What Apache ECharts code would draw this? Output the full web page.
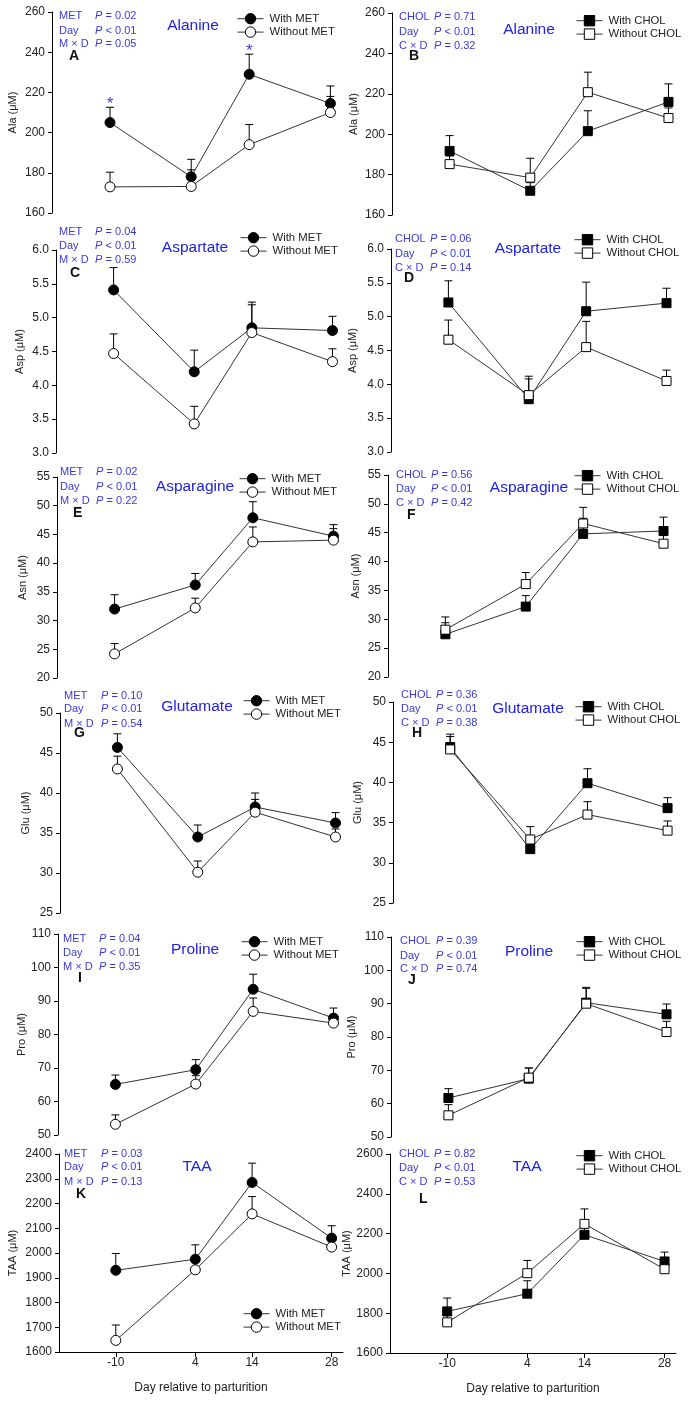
<!DOCTYPE html>
<html><head><meta charset="utf-8">
<script src="https://cdn.jsdelivr.net/npm/echarts@6/dist/echarts.min.js"></script>
<style>html,body{margin:0;padding:0;background:#fff}#c{width:688px;height:1401px}</style>
</head><body><div id="c"></div>
<script>
// ---------- DATA ----------
const days = [-10, 4, 14, 28];
const xTicks = [-10, 4, 14, 28];

const alaWithMET = [205, 178, 229, 214.5];
const alaWithMETSem = [7.6, 8.7, 10, 8.7];
const alaWithoutMET = [173, 173.2, 194, 210];
const alaWithoutMETSem = [7.3, 8.3, 10, 8];
const alaMETStars = [-10, 14];
const alaWithCHOL = [191.7, 172, 201.5, 216];
const alaWithCHOLSem = [7.6, 4, 10.1, 8.9];
const alaWithoutCHOL = [185.2, 178.5, 220.8, 208];
const alaWithoutCHOLSem = [4, 9.6, 9.9, 5];

const aspWithMET = [5.41, 4.20, 4.85, 4.81];
const aspWithMETSem = [0.33, 0.32, 0.38, 0.21];
const aspWithoutMET = [4.47, 3.43, 4.78, 4.35];
const aspWithoutMETSem = [0.29, 0.26, 0.41, 0.19];
const aspWithCHOL = [5.21, 3.78, 5.08, 5.20];
const aspWithCHOLSem = [0.32, 0.30, 0.43, 0.22];
const aspWithoutCHOL = [4.66, 3.84, 4.55, 4.05];
const aspWithoutCHOLSem = [0.29, 0.28, 0.38, 0.16];

const asnWithMET = [32.0, 36.2, 47.9, 44.7];
const asnWithMETSem = [2.5, 2.0, 2.8, 2.0];
const asnWithoutMET = [24.2, 32.2, 43.7, 44.0];
const asnWithoutMETSem = [1.8, 1.7, 2.6, 2.0];
const asnWithCHOL = [27.4, 32.2, 44.8, 45.3];
const asnWithCHOLSem = [2.0, 1.9, 2.7, 2.4];
const asnWithoutCHOL = [28.2, 36.1, 46.6, 43.1];
const asnWithoutCHOLSem = [2.2, 2.0, 2.8, 1.4];

const gluWithMET = [45.7, 34.5, 38.25, 36.25];
const gluWithMETSem = [1.7, 1.5, 1.75, 1.3];
const gluWithoutMET = [43.0, 30.1, 37.6, 34.5];
const gluWithoutMETSem = [1.6, 1.4, 1.6, 1.0];
const gluWithCHOL = [44.4, 31.7, 39.9, 36.8];
const gluWithCHOLSem = [1.6, 1.2, 1.8, 1.3];
const gluWithoutCHOL = [44.1, 32.9, 36.0, 34.0];
const gluWithoutCHOLSem = [1.6, 1.6, 1.6, 1.2];

const proWithMET = [65.1, 69.5, 93.5, 84.9];
const proWithMETSem = [2.8, 3.0, 4.5, 3.0];
const proWithoutMET = [53.2, 65.2, 86.9, 83.4];
const proWithoutMETSem = [2.8, 2.5, 4.0, 1.8];
const proWithCHOL = [61.7, 67.5, 90.3, 86.8];
const proWithCHOLSem = [2.8, 3.2, 4.6, 3.1];
const proWithoutCHOL = [56.5, 67.8, 90.0, 81.5];
const proWithoutCHOLSem = [3.2, 2.9, 4.6, 3.2];

const taaWithMET = [1930, 1975, 2285, 2060];
const taaWithMETSem = [68, 58, 78, 50];
const taaWithoutMET = [1647, 1932, 2158, 2024];
const taaWithoutMETSem = [62, 30, 70, 30];
const taaWithCHOL = [1809, 1898, 2194, 2060];
const taaWithCHOLSem = [67, 65, 40, 47];
const taaWithoutCHOL = [1754, 2001, 2249, 2021];
const taaWithoutCHOLSem = [35, 64, 75, 30];

// y-axis ranges [min, max, interval]
const alaRange = [160, 260, 20];
const aspRange = [3.0, 6.0, 0.5];
const asnRange = [20, 55, 5];
const gluRange = [25, 50, 5];
const proRange = [50, 110, 10];
const taaMETRange = [1600, 2400, 100];
const taaCHOLRange = [1600, 2600, 200];

// P values: treatment, day, interaction
const alaMETP = ['= 0.02', '< 0.01', '= 0.05'];
const alaCHOLP = ['= 0.71', '< 0.01', '= 0.32'];
const aspMETP = ['= 0.04', '< 0.01', '= 0.59'];
const aspCHOLP = ['= 0.06', '< 0.01', '= 0.14'];
const asnMETP = ['= 0.02', '< 0.01', '= 0.22'];
const asnCHOLP = ['= 0.56', '< 0.01', '= 0.42'];
const gluMETP = ['= 0.10', '< 0.01', '= 0.54'];
const gluCHOLP = ['= 0.36', '< 0.01', '= 0.38'];
const proMETP = ['= 0.04', '< 0.01', '= 0.35'];
const proCHOLP = ['= 0.39', '< 0.01', '= 0.74'];
const taaMETP = ['= 0.03', '< 0.01', '= 0.13'];
const taaCHOLP = ['= 0.82', '< 0.01', '= 0.53'];

// ---------- LAYOUT ----------
const FF = '"Liberation Sans", Arial, sans-serif';
const BLUE = '#3a3ad8';
const TBLUE = '#2020e6';
const INK = '#222';

const panels = [
 {g:[52,12,290,201], title:'Alanine', letter:'A', yName:'Ala (μM)', range:alaRange, dec:0, f:'MET', inter:'M × D', p:alaMETP,
  w:alaWithMET, ws:alaWithMETSem, wo:alaWithoutMET, wos:alaWithoutMETSem, stars:alaMETStars, sym:'circle',
  statX:59, pX:95, statY:[16,31,44], letterPos:[69,56], titlePos:[193,26], legendPos:[237,13], nameGap:34},
 {g:[392,13,288,202], title:'Alanine', letter:'B', yName:'Ala (μM)', range:alaRange, dec:0, f:'CHOL', inter:'C × D', p:alaCHOLP,
  w:alaWithCHOL, ws:alaWithCHOLSem, wo:alaWithoutCHOL, wos:alaWithoutCHOLSem, stars:[], sym:'rect',
  statX:399, pX:434, statY:[17,32,46], letterPos:[409,56], titlePos:[529,30], legendPos:[576,15], nameGap:33},
 {g:[56,250,288,203], title:'Aspartate', letter:'C', yName:'Asp (μM)', range:aspRange, dec:1, f:'MET', inter:'M × D', p:aspMETP,
  w:aspWithMET, ws:aspWithMETSem, wo:aspWithoutMET, wos:aspWithoutMETSem, stars:[], sym:'circle',
  statX:59, pX:95, statY:[232,246,260], letterPos:[70,273], titlePos:[195,248], legendPos:[240,232], nameGap:31},
 {g:[391,249,287,203], title:'Aspartate', letter:'D', yName:'Asp (μM)', range:aspRange, dec:1, f:'CHOL', inter:'C × D', p:aspCHOLP,
  w:aspWithCHOL, ws:aspWithCHOLSem, wo:aspWithoutCHOL, wos:aspWithoutCHOLSem, stars:[], sym:'rect',
  statX:395, pX:430, statY:[239,254,268], letterPos:[404,278], titlePos:[528,249], legendPos:[574,234], nameGap:33},
 {g:[57,477,288,201], title:'Asparagine', letter:'E', yName:'Asn (μM)', range:asnRange, dec:0, f:'MET', inter:'M × D', p:asnMETP,
  w:asnWithMET, ws:asnWithMETSem, wo:asnWithoutMET, wos:asnWithoutMETSem, stars:[], sym:'circle',
  statX:60, pX:96, statY:[472,487,501], letterPos:[73,513], titlePos:[195,487], legendPos:[239,473], nameGap:29},
 {g:[388,475,287,202], title:'Asparagine', letter:'F', yName:'Asn (μM)', range:asnRange, dec:0, f:'CHOL', inter:'C × D', p:asnCHOLP,
  w:asnWithCHOL, ws:asnWithCHOLSem, wo:asnWithoutCHOL, wos:asnWithoutCHOLSem, stars:[], sym:'rect',
  statX:396, pX:431, statY:[475,489,503], letterPos:[407,515], titlePos:[529,488], legendPos:[574,470], nameGap:27},
 {g:[60,713,287,200], title:'Glutamate', letter:'G', yName:'Glu (μM)', range:gluRange, dec:0, f:'MET', inter:'M × D', p:gluMETP,
  w:gluWithMET, ws:gluWithMETSem, wo:gluWithoutMET, wos:gluWithoutMETSem, stars:[], sym:'circle',
  statX:64, pX:101, statY:[696,709,724], letterPos:[74,733], titlePos:[197,707], legendPos:[243,695], nameGap:29},
 {g:[393,702,286,201], title:'Glutamate', letter:'H', yName:'Glu (μM)', range:gluRange, dec:0, f:'CHOL', inter:'C × D', p:gluCHOLP,
  w:gluWithCHOL, ws:gluWithCHOLSem, wo:gluWithoutCHOL, wos:gluWithoutCHOLSem, stars:[], sym:'rect',
  statX:401, pX:436, statY:[695,709,723], letterPos:[412,733], titlePos:[528,709], legendPos:[575,701], nameGap:30},
 {g:[58,934,287,201], title:'Proline', letter:'I', yName:'Pro (μM)', range:proRange, dec:0, f:'MET', inter:'M × D', p:proMETP,
  w:proWithMET, ws:proWithMETSem, wo:proWithoutMET, wos:proWithoutMETSem, stars:[], sym:'circle',
  statX:63, pX:99, statY:[939,953,967], letterPos:[78,978], titlePos:[195,950], legendPos:[241,936], nameGap:31},
 {g:[391,937,287,200], title:'Proline', letter:'J', yName:'Pro (μM)', range:proRange, dec:0, f:'CHOL', inter:'C × D', p:proCHOLP,
  w:proWithCHOL, ws:proWithCHOLSem, wo:proWithoutCHOL, wos:proWithoutCHOLSem, stars:[], sym:'rect',
  statX:400, pX:436, statY:[941,956,969], letterPos:[408,980], titlePos:[529,952], legendPos:[576,936], nameGap:34},
 {g:[59,1154,284,198], title:'TAA', letter:'K', yName:'TAA (μM)', range:taaMETRange, dec:0, f:'MET', inter:'M × D', p:taaMETP,
  w:taaWithMET, ws:taaWithMETSem, wo:taaWithoutMET, wos:taaWithoutMETSem, stars:[], sym:'circle',
  statX:64, pX:101, statY:[1154,1167,1182], letterPos:[76,1194], titlePos:[197,1167], legendPos:[243,1308], nameGap:41},
 {g:[390,1154,286,199], title:'TAA', letter:'L', yName:'TAA (μM)', range:taaCHOLRange, dec:0, f:'CHOL', inter:'C × D', p:taaCHOLP,
  w:taaWithCHOL, ws:taaWithCHOLSem, wo:taaWithoutCHOL, wos:taaWithoutCHOLSem, stars:[], sym:'rect',
  statX:399, pX:434, statY:[1154,1168,1182], letterPos:[419,1199], titlePos:[527,1167], legendPos:[576,1150], nameGap:36}
];

function errRender(params, api) {
  const x = api.value(0), y = api.value(1), t = api.value(2);
  const p0 = api.coord([x, y]);
  const p1 = api.coord([x, t]);
  const st = {stroke:'#000', lineWidth:1};
  return {type:'group', children:[
    {type:'line', shape:{x1:p0[0], y1:p0[1], x2:p1[0], y2:p1[1]}, style:st},
    {type:'line', shape:{x1:p1[0]-4, y1:p1[1], x2:p1[0]+4, y2:p1[1]}, style:st}
  ]};
}
function starRender(params, api) {
  const p = api.coord([api.value(0), api.value(1)]);
  return {type:'text', x:p[0], y:p[1]-11, style:{text:'*', fill:BLUE, fontSize:17, fontFamily:FF, align:'center', verticalAlign:'top'}};
}
function txt(x, y, text, extra) {
  return {type:'text', x:x, y:y, silent:true, z:10,
    style:Object.assign({text:text, fill:BLUE, fontSize:11, fontFamily:FF, align:'left', verticalAlign:'middle'}, extra || {})};
}

const option = {animation:false, backgroundColor:'#fff', grid:[], xAxis:[], yAxis:[], series:[], legend:[], graphic:[]};

panels.forEach((p, i) => {
  const bottom = i >= 10;
  option.grid.push({left:p.g[0], top:p.g[1], width:p.g[2], height:p.g[3]});
  option.xAxis.push({
    gridIndex:i, type:'value', min:-20, max:30, show:bottom,
    axisLine:{show:true, onZero:false, lineStyle:{color:'#000', width:1}},
    axisTick:{show:true, length:5, customValues:xTicks, lineStyle:{color:'#000'}},
    axisLabel:{customValues:xTicks, fontSize:12, color:INK, fontFamily:FF, margin:5},
    splitLine:{show:false},
    name:'Day relative to parturition', nameLocation:'middle', nameGap:30,
    nameTextStyle:{fontSize:12, color:INK, fontFamily:FF}
  });
  option.yAxis.push({
    gridIndex:i, type:'value', min:p.range[0], max:p.range[1], interval:p.range[2],
    axisLine:{show:true, onZero:false, lineStyle:{color:'#000', width:1}},
    axisTick:{show:true, length:4, lineStyle:{color:'#000'}},
    axisLabel:{fontSize:12, color:INK, fontFamily:FF, margin:7,
      formatter: v => p.dec ? v.toFixed(p.dec) : String(v)},
    splitLine:{show:false},
    name:p.yName, nameLocation:'middle', nameGap:p.nameGap,
    nameTextStyle:{fontSize:11, color:INK, fontFamily:FF}
  });
  const nW = 'With ' + p.f, nWo = 'Without ' + p.f;
  [[p.w, p.ws], [p.wo, p.wos]].forEach(([m, s]) => {
    option.series.push({type:'custom', xAxisIndex:i, yAxisIndex:i, z:1, silent:true, clip:false,
      encode:{x:0, y:1},
      data:days.map((d, k) => [d, m[k], m[k] + s[k]]), renderItem:errRender});
  });
  const size = p.sym === 'circle' ? 10 : 9;
  option.series.push({type:'line', name:nW, xAxisIndex:i, yAxisIndex:i, z:3,
    data:days.map((d, k) => [d, p.w[k]]), symbol:p.sym, symbolSize:size, showAllSymbol:true,
    lineStyle:{color:'#333', width:1}, itemStyle:{color:'#000', borderColor:'#000', borderWidth:1},
    emphasis:{disabled:true}});
  option.series.push({type:'line', name:nWo, xAxisIndex:i, yAxisIndex:i, z:4,
    data:days.map((d, k) => [d, p.wo[k]]), symbol:p.sym, symbolSize:size, showAllSymbol:true,
    lineStyle:{color:'#333', width:1}, itemStyle:{color:'#fff', borderColor:'#000', borderWidth:1},
    emphasis:{disabled:true}});
  if (p.stars.length) {
    option.series.push({type:'custom', xAxisIndex:i, yAxisIndex:i, z:5, silent:true, clip:false,
      encode:{x:0, y:1},
      data:p.stars.map(d => { const k = days.indexOf(d); return [d, p.w[k] + p.ws[k]]; }),
      renderItem:starRender});
  }
  option.legend.push({orient:'vertical', left:p.legendPos[0], top:p.legendPos[1], padding:0, itemGap:2,
    itemWidth:26, itemHeight:13, selectedMode:false, data:[nW, nWo],
    lineStyle:{width:1, color:'#333'},
    itemStyle:{borderWidth:1},
    textStyle:{fontSize:11.3, color:INK, fontFamily:FF, padding:[0,0,0,1]}});
  const labels = [p.f, 'Day', p.inter];
  labels.forEach((lab, r) => {
    option.graphic.push(txt(p.statX, p.statY[r], lab));
    option.graphic.push(txt(p.pX, p.statY[r], 'P', {fontStyle:'italic'}));
    option.graphic.push(txt(p.pX + 7.5, p.statY[r], ' ' + p.p[r]));
  });
  option.graphic.push(txt(p.letterPos[0], p.letterPos[1], p.letter, {fill:'#111', fontWeight:'bold', fontSize:14}));
  option.graphic.push(txt(p.titlePos[0], p.titlePos[1], p.title, {fill:TBLUE, fontSize:15.5, align:'center'}));
});

const chart = echarts.init(document.getElementById('c'), null, {renderer:'canvas'});
chart.setOption(option);
</script>
</body></html>
